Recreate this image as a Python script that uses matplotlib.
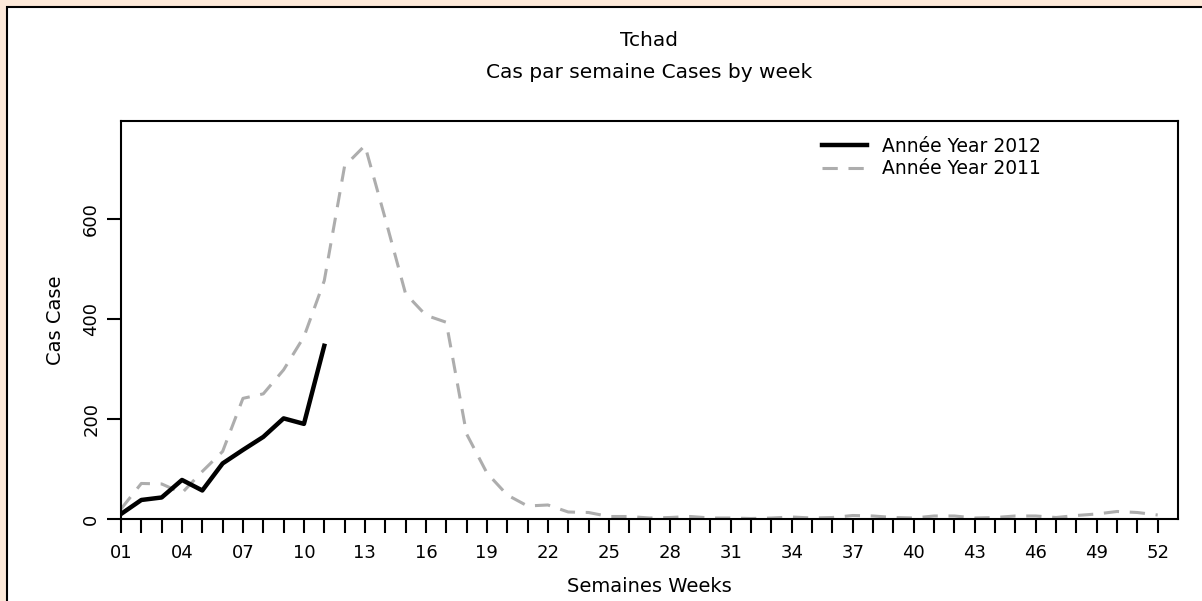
import matplotlib.pyplot as plt
from matplotlib.patches import Rectangle

plt.rcParams['font.family'] = ['DejaVu Sans']

weeks_2012 = list(range(1, 12))
cases_2012 = [10, 38, 43, 78, 57, 111, 138, 164, 201, 190, 346]

weeks_2011 = list(range(1, 53))
cases_2011 = [20, 71, 70, 52, 95, 135, 241, 250, 298, 364, 476, 705,
              746, 600, 450, 407, 393, 170, 92, 48, 26, 28, 14, 13, 5, 5,
              2, 3, 5, 2, 2, 1, 2, 4, 2, 3, 7, 6, 3, 2, 6, 6,
              2, 3, 6, 6, 3, 7, 10, 15, 13, 8]

xtick_weeks = list(range(1, 53, 3))
xtick_labels = ['%02d' % w for w in xtick_weeks]
ytick_vals = [0, 200, 400, 600]

W, H = 1202, 601
fig = plt.figure(figsize=(W / 100, H / 100), dpi=100)
fig.patch.set_facecolor('#fde9d9')
fig.patches.append(Rectangle((7 / W, -0.1), 1.2, (H - 7) / H + 0.1,
                             transform=fig.transFigure, facecolor='white',
                             edgecolor='black', lw=1.5, zorder=-1))

ax = fig.add_axes([121 / W, (H - 519) / H, (1178 - 121) / W, (519 - 121) / H])
ax.set_zorder(1)
ax.set_facecolor('white')

ax.plot(weeks_2012, cases_2012, color='black', lw=3.2,
        label='Année Year 2012', zorder=3)
ax.plot(weeks_2011, cases_2011, color='#adadad', lw=2.2, dashes=(5, 3.5),
        label='Année Year 2011', zorder=2)

ax.set_xlim(1, 53)
ax.set_ylim(0, 795)
ax.set_xticks(range(1, 53), minor=True)
ax.set_xticks(xtick_weeks)
ax.set_xticklabels(xtick_labels, fontsize=13)
ax.set_yticks(ytick_vals)
ax.set_yticklabels([str(v) for v in ytick_vals], fontsize=13, rotation=90,
                   va='center')
ax.tick_params(axis='x', which='both', length=10, width=1.5, pad=8)
ax.tick_params(axis='y', length=10, width=1.5, pad=5)
for s in ax.spines.values():
    s.set_linewidth(1.5)

ax.set_xlabel('Semaines Weeks', fontsize=14, labelpad=11)
ax.set_ylabel('Cas Case', fontsize=14, labelpad=12)

fig.text(649 / W, 1 - 40 / H, 'Tchad', ha='center', va='center', fontsize=14.5)
fig.text(649 / W, 1 - 73 / H, 'Cas par semaine Cases by week', ha='center',
         va='center', fontsize=14.5)

ax.legend(loc='upper left', bbox_to_anchor=(0.647, 1.003), frameon=False,
          fontsize=13.5, handlelength=2.4, handletextpad=0.8,
          labelspacing=0.2)

fig.savefig('out.png', dpi=100, facecolor=fig.get_facecolor())
